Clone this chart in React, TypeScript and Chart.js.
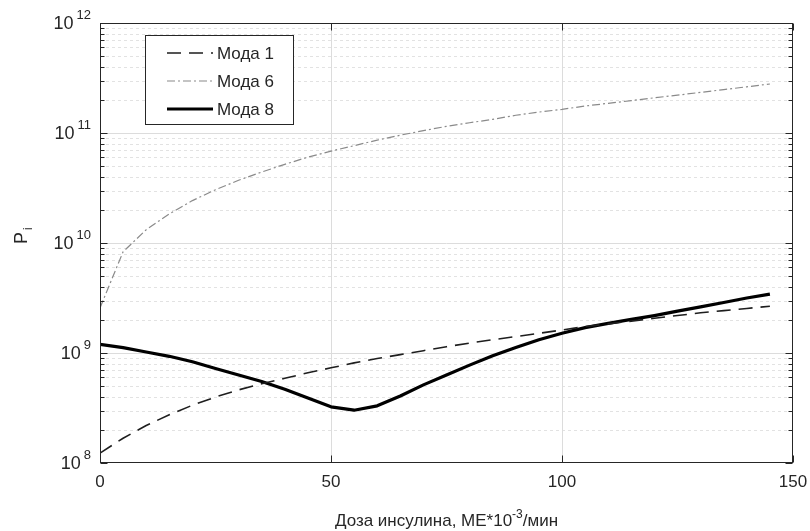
import { useEffect, useRef } from 'react';
import { Chart, registerables } from 'chart.js';

Chart.register(...registerables);

// ---- data ----
const dose = [0, 5, 10, 15, 20, 25, 30, 35, 40, 45, 50, 55, 60, 65, 70, 75, 80, 85, 90, 95, 100, 105, 110, 115, 120, 125, 130, 135, 140, 145];

const moda1 = [1.23e8, 1.68e8, 2.19e8, 2.75e8, 3.35e8, 3.98e8, 4.62e8, 5.25e8, 5.89e8, 6.61e8, 7.33e8, 8.13e8, 8.91e8, 9.66e8, 1.05e9, 1.14e9, 1.23e9, 1.32e9, 1.41e9, 1.51e9, 1.62e9, 1.74e9, 1.84e9, 1.95e9, 2.07e9, 2.19e9, 2.32e9, 2.43e9, 2.54e9, 2.66e9];

const moda6 = [2.57e9, 8.32e9, 1.32e10, 1.84e10, 2.43e10, 3.05e10, 3.72e10, 4.42e10, 5.19e10, 6.03e10, 6.84e10, 7.67e10, 8.61e10, 9.55e10, 1.05e11, 1.15e11, 1.24e11, 1.33e11, 1.45e11, 1.55e11, 1.64e11, 1.76e11, 1.86e11, 1.97e11, 2.09e11, 2.21e11, 2.34e11, 2.48e11, 2.63e11, 2.79e11];

const moda8 = [1.20e9, 1.12e9, 1.02e9, 9.33e8, 8.32e8, 7.24e8, 6.31e8, 5.50e8, 4.68e8, 3.89e8, 3.24e8, 3.02e8, 3.31e8, 4.07e8, 5.13e8, 6.31e8, 7.76e8, 9.44e8, 1.12e9, 1.32e9, 1.51e9, 1.70e9, 1.86e9, 2.02e9, 2.19e9, 2.40e9, 2.63e9, 2.88e9, 3.16e9, 3.43e9];

const seriesLabels = ['Мода 1', 'Мода 6', 'Мода 8'];
const xTicks = [0, 50, 100, 150];
const yTickExponents = [8, 9, 10, 11, 12];
const minorMultipliers = [2, 3, 4, 5, 6, 7, 8, 9];
const xTitleMain = 'Доза инсулина, МЕ*10';
const xTitleSup = '-3';
const xTitleTail = '/мин';
const yTitleMain = 'P';
const yTitleSub = 'i';

const FONT = "'Liberation Sans', Arial, Helvetica, sans-serif";
const TEXT = '#262626';
const AXIS = '#262626';

const styles = [
  { color: '#1e1e1e', width: 1.6, dash: [14, 8] },
  { color: '#8a8a8a', width: 1.2, dash: [8, 3, 2, 3] },
  { color: '#000000', width: 3.2, dash: [] as number[] },
];

const customPlugin = {
  id: 'matlabLook',
  beforeDatasetsDraw(chart: any) {
    const { ctx, chartArea: a, scales } = chart;
    const xs = scales.x;
    const ys = scales.y;
    ctx.save();
    ctx.beginPath();
    ctx.rect(a.left, a.top, a.right - a.left, a.bottom - a.top);
    ctx.clip();
    ctx.lineWidth = 1;
    // minor horizontal grid
    ctx.strokeStyle = '#e2e2e2';
    ctx.setLineDash([3, 3]);
    for (let i = 0; i < yTickExponents.length - 1; i++) {
      for (const m of minorMultipliers) {
        const py = Math.round(ys.getPixelForValue(m * Math.pow(10, yTickExponents[i]))) + 0.5;
        ctx.beginPath();
        ctx.moveTo(a.left, py);
        ctx.lineTo(a.right, py);
        ctx.stroke();
      }
    }
    // major grid
    ctx.setLineDash([]);
    ctx.strokeStyle = '#dcdcdc';
    for (const e of yTickExponents) {
      const py = Math.round(ys.getPixelForValue(Math.pow(10, e))) + 0.5;
      ctx.beginPath();
      ctx.moveTo(a.left, py);
      ctx.lineTo(a.right, py);
      ctx.stroke();
    }
    for (const t of xTicks) {
      const px = Math.round(xs.getPixelForValue(t)) + 0.5;
      ctx.beginPath();
      ctx.moveTo(px, a.top);
      ctx.lineTo(px, a.bottom);
      ctx.stroke();
    }
    ctx.restore();
  },
  afterDatasetsDraw(chart: any) {
    const { ctx, chartArea: a, scales } = chart;
    const xs = scales.x;
    const ys = scales.y;
    ctx.save();
    // box
    ctx.strokeStyle = AXIS;
    ctx.lineWidth = 1;
    ctx.setLineDash([]);
    const L = Math.round(a.left) + 0.5;
    const R = Math.round(a.right) - 0.5;
    const T = Math.round(a.top) + 0.5;
    const B = Math.round(a.bottom) - 0.5;
    ctx.strokeRect(L, T, R - L, B - T);
    // y ticks
    const tick = (y: number, len: number) => {
      ctx.beginPath();
      ctx.moveTo(L, y);
      ctx.lineTo(L + len, y);
      ctx.moveTo(R, y);
      ctx.lineTo(R - len, y);
      ctx.stroke();
    };
    for (let i = 0; i < yTickExponents.length; i++) {
      const py = Math.round(ys.getPixelForValue(Math.pow(10, yTickExponents[i]))) + 0.5;
      tick(py, 7);
      if (i < yTickExponents.length - 1) {
        for (const m of minorMultipliers) {
          const pm = Math.round(ys.getPixelForValue(m * Math.pow(10, yTickExponents[i]))) + 0.5;
          tick(pm, 4);
        }
      }
    }
    // x ticks
    for (const t of xTicks) {
      const px = Math.round(xs.getPixelForValue(t)) + 0.5;
      ctx.beginPath();
      ctx.moveTo(px, B);
      ctx.lineTo(px, B - 7);
      ctx.moveTo(px, T);
      ctx.lineTo(px, T + 7);
      ctx.stroke();
    }
    // x tick labels
    ctx.fillStyle = TEXT;
    ctx.font = `17px ${FONT}`;
    ctx.textAlign = 'center';
    ctx.textBaseline = 'top';
    for (const t of xTicks) {
      ctx.fillText(String(t), xs.getPixelForValue(t), a.bottom + 11);
    }
    // y tick labels 10^e
    ctx.textBaseline = 'middle';
    for (const e of yTickExponents) {
      const py = ys.getPixelForValue(Math.pow(10, e));
      const exp = String(e);
      ctx.font = `13px ${FONT}`;
      const ew = ctx.measureText(exp).width;
      const right = a.left - 9;
      ctx.textAlign = 'right';
      ctx.fillText(exp, right, py - 8);
      ctx.font = `18px ${FONT}`;
      ctx.fillText('10', right - ew - 3, py + 1);
    }
    // x title
    ctx.textBaseline = 'alphabetic';
    ctx.textAlign = 'left';
    ctx.font = `17px ${FONT}`;
    const w1 = ctx.measureText(xTitleMain).width;
    const w3 = ctx.measureText(xTitleTail).width;
    ctx.font = `12px ${FONT}`;
    const w2 = ctx.measureText(xTitleSup).width;
    const total = w1 + w2 + w3;
    const cx = (a.left + a.right) / 2;
    let sx = cx - total / 2;
    const by = 526;
    ctx.font = `17px ${FONT}`;
    ctx.fillText(xTitleMain, sx, by);
    sx += w1;
    ctx.font = `12px ${FONT}`;
    ctx.fillText(xTitleSup, sx, by - 8);
    sx += w2;
    ctx.font = `17px ${FONT}`;
    ctx.fillText(xTitleTail, sx, by);
    // y title
    ctx.save();
    ctx.translate(27, 244);
    ctx.rotate(-Math.PI / 2);
    ctx.font = `18px ${FONT}`;
    ctx.textBaseline = 'alphabetic';
    ctx.fillText(yTitleMain, 0, 0);
    const pw = ctx.measureText(yTitleMain).width;
    ctx.font = `12px ${FONT}`;
    ctx.fillText(yTitleSub, pw + 2, 5);
    ctx.restore();
    // legend
    const lx = 145.5, ly = 35.5, lw = 148, lh = 89;
    ctx.fillStyle = '#ffffff';
    ctx.fillRect(lx, ly, lw, lh);
    ctx.strokeStyle = AXIS;
    ctx.lineWidth = 1;
    ctx.strokeRect(lx, ly, lw, lh);
    const rows = [53, 81, 109];
    chart.data.datasets.forEach((ds: any, i: number) => {
      const y = rows[i];
      ctx.strokeStyle = ds.borderColor;
      ctx.lineWidth = ds.borderWidth;
      ctx.setLineDash(ds.borderDash || []);
      ctx.beginPath();
      ctx.moveTo(167, y);
      ctx.lineTo(213, y);
      ctx.stroke();
      ctx.setLineDash([]);
      ctx.fillStyle = TEXT;
      ctx.font = `17px ${FONT}`;
      ctx.textAlign = 'left';
      ctx.textBaseline = 'middle';
      ctx.fillText(ds.label, 217, y + 1);
    });
    ctx.restore();
  },
};

export default function App() {
  const ref = useRef<HTMLCanvasElement | null>(null);
  useEffect(() => {
    if (!ref.current) return;
    const series = [moda1, moda6, moda8];
    const chart = new Chart(ref.current, {
      type: 'line',
      data: {
        datasets: series.map((vals, i) => ({
          label: seriesLabels[i],
          data: dose.map((x, j) => ({ x, y: vals[j] })),
          borderColor: styles[i].color,
          borderWidth: styles[i].width,
          borderDash: styles[i].dash,
          pointRadius: 0,
          tension: 0,
          fill: false,
          borderJoinStyle: 'round' as const,
        })),
      },
      options: {
        responsive: false,
        animation: false,
        layout: { padding: { left: 100, right: 17, top: 23, bottom: 68 } },
        plugins: { legend: { display: false }, tooltip: { enabled: false } },
        scales: {
          x: { type: 'linear', min: 0, max: 150, display: false },
          y: { type: 'logarithmic', min: 1e8, max: 1e12, display: false },
        },
      },
      plugins: [customPlugin],
    });
    return () => chart.destroy();
  }, []);
  return (
    <div style={{ position: 'fixed', left: 0, top: 0, width: 810, height: 531, background: '#fff' }}>
      <canvas ref={ref} width={810} height={531} style={{ display: 'block' }} />
    </div>
  );
}
